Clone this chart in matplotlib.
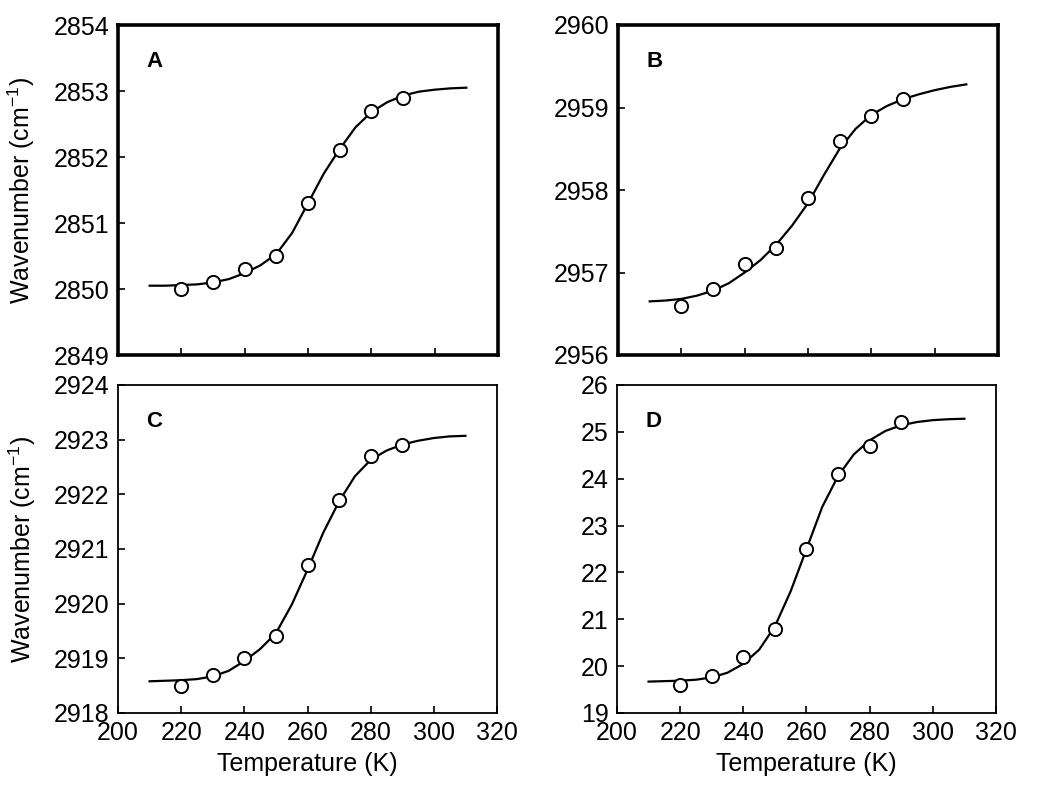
import matplotlib
matplotlib.use("Agg")
import matplotlib.pyplot as plt

plt.rcParams['font.family'] = ['Liberation Sans', 'DejaVu Sans']
plt.rcParams['mathtext.fontset'] = 'custom'
plt.rcParams['mathtext.rm'] = 'Liberation Sans'

# measured points (temperature in K)
temps = [220, 230, 240, 250, 260, 270, 280, 290]
a_pts = [2850.0, 2850.1, 2850.3, 2850.5, 2851.3, 2852.1, 2852.7, 2852.9]
b_pts = [2956.6, 2956.8, 2957.1, 2957.3, 2957.9, 2958.6, 2958.9, 2959.1]
c_pts = [2918.5, 2918.7, 2919.0, 2919.4, 2920.7, 2921.9, 2922.7, 2922.9]
d_pts = [19.6, 19.8, 20.2, 20.8, 22.5, 24.1, 24.7, 25.2]

fit_t = [210, 215, 220, 225, 230, 235, 240, 245, 250, 255, 260,
         265, 270, 275, 280, 285, 290, 295, 300, 305, 310]
a_fit = [2850.05, 2850.05, 2850.06, 2850.07, 2850.10, 2850.15, 2850.24,
         2850.36, 2850.53, 2850.85, 2851.30, 2851.75, 2852.12, 2852.45,
         2852.68, 2852.83, 2852.93, 2852.99, 2853.02, 2853.04, 2853.05]
b_fit = [2956.65, 2956.66, 2956.68, 2956.72, 2956.78, 2956.87, 2957.00,
         2957.15, 2957.34, 2957.57, 2957.84, 2958.18, 2958.50, 2958.74,
         2958.91, 2959.02, 2959.10, 2959.16, 2959.21, 2959.25, 2959.28]
c_fit = [2918.58, 2918.59, 2918.60, 2918.62, 2918.67, 2918.77, 2918.95,
         2919.17, 2919.46, 2919.98, 2920.62, 2921.30, 2921.87, 2922.33,
         2922.63, 2922.80, 2922.91, 2922.98, 2923.03, 2923.06, 2923.07]
d_fit = [19.67, 19.68, 19.69, 19.71, 19.76, 19.86, 20.05, 20.35, 20.85,
         21.60, 22.50, 23.40, 24.06, 24.52, 24.82, 25.02, 25.14, 25.21,
         25.25, 25.27, 25.28]

y_limits = [(2849, 2854), (2956, 2960), (2918, 2924), (19, 26)]
panel_labels = ['A', 'B', 'C', 'D']

W, H = 1050, 800
fig = plt.figure(figsize=(W / 100, H / 100), dpi=100)

# (left, top, right, bottom) in pixels
boxes = [(118, 25, 498, 355), (618, 25, 998, 355),
         (118, 385, 497, 713), (617, 385, 996, 713)]
panels = [(a_pts, a_fit), (b_pts, b_fit), (c_pts, c_fit), (d_pts, d_fit)]

for i, (box, (pts, fit)) in enumerate(zip(boxes, panels)):
    l, t, r, b = box
    ax = fig.add_axes([l / W, 1 - b / H, (r - l) / W, (b - t) / H])
    ax.plot(fit_t, fit, color='black', lw=1.6, zorder=2)
    ax.plot(temps, pts, 'o', ms=9.5, mfc='white', mec='black', mew=1.4,
            zorder=3)
    ax.set_xlim(200, 320)
    ax.set_ylim(*y_limits[i])
    ax.set_xticks(range(200, 321, 20))
    ax.set_yticks(range(y_limits[i][0], y_limits[i][1] + 1))
    ax.tick_params(direction='in', length=5, width=1.2, labelsize=18,
                   pad=6, top=False, right=False)
    top_row = i < 2
    for s in ax.spines.values():
        s.set_linewidth(2.6 if top_row else 1.3)
    if top_row:
        ax.tick_params(labelbottom=False)
    else:
        ax.set_xlabel('Temperature (K)', fontsize=18, labelpad=5)
    if i % 2 == 0:
        ax.set_ylabel('Wavenumber (cm$^{-1}$)', fontsize=18)
        ax.yaxis.set_label_coords(-0.212, 0.5)
    ax.text(0.075, 0.89, panel_labels[i], transform=ax.transAxes,
            fontsize=16, fontweight='bold', ha='left', va='center')

fig.savefig('out.png', dpi=100, facecolor='white')
